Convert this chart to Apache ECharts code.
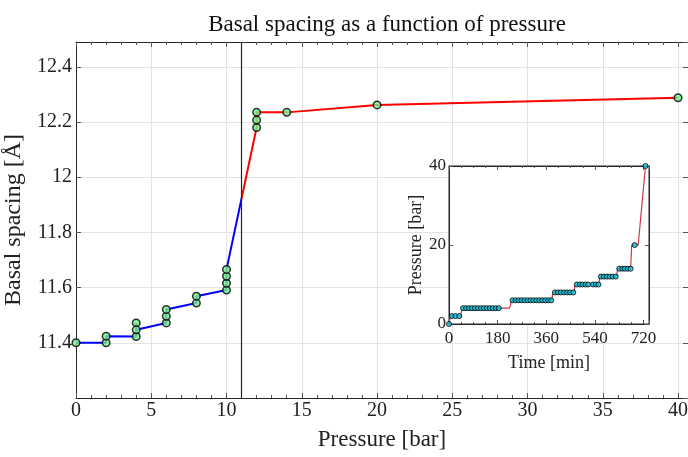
<!DOCTYPE html>
<html>
<head>
<meta charset="utf-8">
<script src="https://cdn.jsdelivr.net/npm/echarts@6/dist/echarts.min.js"></script>
<style>
html,body{margin:0;padding:0;background:#fff;}
#chart{width:688px;height:457px;}
</style>
</head>
<body>
<div id="chart"></div>
<script>
// ---- Main plot data: basal spacing vs pressure (in measurement order) ----
const pressureBar   = [0, 2, 2, 4, 4, 4, 6, 6, 6, 8, 8, 10, 10, 10, 10, 12, 12, 12, 14, 20, 40];
const basalSpacing  = [11.400, 11.400, 11.424, 11.423, 11.472, 11.447, 11.472, 11.496, 11.521,
                       11.544, 11.569, 11.591, 11.616, 11.641, 11.666, 12.180, 12.207, 12.235,
                       12.235, 12.262, 12.288];
const transitionPressure = 11;
const mainXTicks = [0, 5, 10, 15, 20, 25, 30, 35, 40];
const mainYTicks = [11.4, 11.6, 11.8, 12, 12.2, 12.4];

// ---- Inset data: pressure log vs time ----
const logTime     = [0, 5, 43, 48, 224, 232, 380, 385, 462, 467, 554, 558, 620, 624, 672, 676, 700, 727];
const logPressure = [0, 2, 2, 4, 4, 6, 6, 8, 8, 10, 10, 12, 12, 14, 14, 20, 20, 40];
const sampleTime = [0, 11, 24, 38,
  52, 63, 74, 85, 96, 107, 118, 129, 140, 151, 162, 173, 184,
  235, 246, 257, 268, 279, 290, 301, 312, 323, 334, 345, 356, 367, 378,
  392, 403, 414, 426, 437, 448, 460,
  473, 484, 494, 505, 515, 533, 543, 553,
  562, 573, 584, 595, 606, 617,
  630, 641, 651, 662, 672,
  687, 727];
const samplePressure = [0, 2, 2, 2,
  4, 4, 4, 4, 4, 4, 4, 4, 4, 4, 4, 4, 4,
  6, 6, 6, 6, 6, 6, 6, 6, 6, 6, 6, 6, 6, 6,
  8, 8, 8, 8, 8, 8, 8,
  10, 10, 10, 10, 10, 10, 10, 10,
  12, 12, 12, 12, 12, 12,
  14, 14, 14, 14, 14,
  20, 40];
const insetXTicks = [0, 180, 360, 540, 720];
const insetYTicks = [0, 20, 40];

const FONT = 'Liberation Serif';
const INK = '#262626';
const TICK = '#555555';

const mainPts = pressureBar.map((p, i) => [p, basalSpacing[i]]);
const logPts = logTime.map((t, i) => [t, logPressure[i]]);
const samplePts = sampleTime.map((t, i) => [t, samplePressure[i]]);

function frameAxis(extra) {
  return Object.assign({
    type: 'value',
    axisLine: { show: true, onZero: false, lineStyle: { color: INK, width: 1 } },
    axisTick: { show: true, inside: true, length: 5, lineStyle: { color: TICK, width: 1 } },
    splitLine: { show: false },
    axisLabel: { show: false }
  }, extra);
}

const chart = echarts.init(document.getElementById('chart'), null, { renderer: 'canvas' });
chart.setOption({
  animation: false,
  backgroundColor: '#ffffff',
  title: {
    text: 'Basal spacing as a function of pressure',
    left: 382, top: 8, textAlign: 'center',
    textStyle: { fontFamily: FONT, fontSize: 23, fontWeight: 'normal', color: '#111' }
  },
  grid: [
    { left: 76, top: 42, width: 612, height: 356, containLabel: false, outerBoundsMode: 'none' },
    { left: 449, top: 166, width: 200, height: 158, show: true, backgroundColor: '#ffffff',
      borderColor: INK, borderWidth: 1, z: 10, containLabel: false, outerBoundsMode: 'none' }
  ],
  visualMap: {
    type: 'piecewise', show: false, dimension: 0, seriesIndex: 0,
    pieces: [
      { gte: -100, lt: transitionPressure, color: '#0000ff' },
      { gte: transitionPressure, lte: 100, color: '#ff0000' }
    ]
  },
  xAxis: [
    frameAxis({
      gridIndex: 0, position: 'bottom', min: mainXTicks[0], max: 40.66, interval: 5,
      minorTick: { show: true, splitNumber: 5, length: 3, lineStyle: { color: TICK } },
      splitLine: { show: true, lineStyle: { color: '#e3e3e3', width: 1 } },
      axisLabel: { show: true, margin: 3, fontFamily: FONT, fontSize: 20, color: '#222', showMaxLabel: false },
      name: 'Pressure [bar]', nameLocation: 'middle', nameGap: 30,
      nameTextStyle: { fontFamily: FONT, fontSize: 23, color: '#222' }
    }),
    frameAxis({
      gridIndex: 0, position: 'top', min: mainXTicks[0], max: 40.66, interval: 5,
      minorTick: { show: true, splitNumber: 5, length: 3, lineStyle: { color: TICK } }
    }),
    frameAxis({
      gridIndex: 1, position: 'bottom', min: insetXTicks[0], max: 740, interval: 180, z: 11,
      minorTick: { show: true, splitNumber: 4, length: 2, lineStyle: { color: TICK } },
      axisTick: { show: true, inside: true, length: 4, lineStyle: { color: TICK } },
      axisLabel: { show: true, margin: 6, fontFamily: FONT, fontSize: 17, color: '#222', showMaxLabel: false },
      name: 'Time [min]', nameLocation: 'middle', nameGap: 30,
      nameTextStyle: { fontFamily: FONT, fontSize: 18, color: '#222' }
    }),
    frameAxis({
      gridIndex: 1, position: 'top', min: insetXTicks[0], max: 740, interval: 180, z: 11,
      axisTick: { show: true, inside: true, length: 4, lineStyle: { color: TICK } },
      minorTick: { show: true, splitNumber: 4, length: 2, lineStyle: { color: TICK } }
    })
  ],
  yAxis: [
    frameAxis({
      gridIndex: 0, position: 'left', min: 11.2, max: 12.49, interval: 0.2,
      splitLine: { show: true, lineStyle: { color: '#e3e3e3', width: 1 } },
      axisLabel: { show: true, margin: 4, fontFamily: FONT, fontSize: 20, color: '#222',
                   showMinLabel: false, showMaxLabel: false },
      name: 'Basal spacing [Å]', nameLocation: 'middle', nameGap: 36,
      nameTextStyle: { fontFamily: FONT, fontSize: 24, color: '#222' }
    }),
    frameAxis({
      gridIndex: 0, position: 'right', min: 11.2, max: 12.49, interval: 0.2
    }),
    frameAxis({
      gridIndex: 1, position: 'left', min: insetYTicks[0], max: 40, interval: 20, z: 11,
      axisTick: { show: true, inside: true, length: 4, lineStyle: { color: TICK } },
      axisLabel: { show: true, margin: 3, fontFamily: FONT, fontSize: 17, color: '#222' },
      name: 'Pressure [bar]', nameLocation: 'middle', nameGap: 22,
      nameTextStyle: { fontFamily: FONT, fontSize: 18, color: '#222' }
    }),
    frameAxis({
      gridIndex: 1, position: 'right', min: insetYTicks[0], max: 40, interval: 20, z: 11,
      axisTick: { show: true, inside: true, length: 4, lineStyle: { color: TICK } }
    })
  ],
  series: [
    {
      type: 'line', xAxisIndex: 0, yAxisIndex: 0, data: mainPts,
      showSymbol: false, symbol: 'none', lineStyle: { width: 2 }, z: 3,
      markLine: {
        silent: true, symbol: 'none', label: { show: false },
        lineStyle: { color: INK, width: 1.2, type: 'solid' },
        data: [{ xAxis: transitionPressure }]
      }
    },
    {
      type: 'scatter', xAxisIndex: 0, yAxisIndex: 0, data: mainPts,
      symbol: 'circle', symbolSize: 7.5, z: 4,
      itemStyle: { color: '#78f08c', borderColor: '#000', borderWidth: 1.5 }
    },
    {
      type: 'line', xAxisIndex: 2, yAxisIndex: 2, data: logPts,
      showSymbol: false, symbol: 'none', z: 12,
      lineStyle: { color: '#cc3a44', width: 1.2 }
    },
    {
      type: 'scatter', xAxisIndex: 2, yAxisIndex: 2, data: samplePts,
      symbol: 'circle', symbolSize: 5, z: 13,
      itemStyle: { color: '#12c6e0', borderColor: '#000', borderWidth: 1 }
    }
  ]
});
</script>
</body>
</html>
